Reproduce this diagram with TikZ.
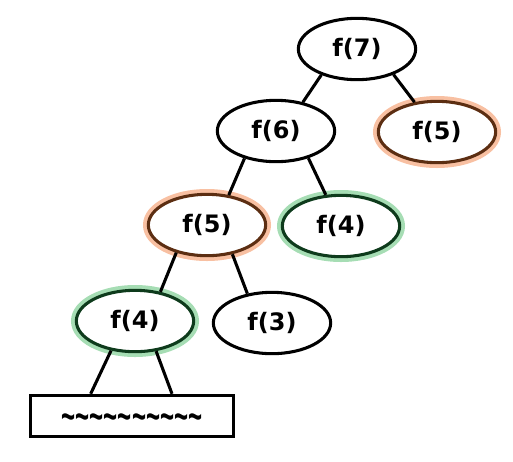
\documentclass[tikz,border=0pt]{standalone}
\usepackage{fontspec}
\setmainfont{DejaVu Sans}
\newfontfamily\wavefont{Liberation Sans}
\usetikzlibrary{shapes.geometric}
\definecolor{glowor}{RGB}{248,192,162}
\definecolor{lineor}{RGB}{92,46,18}
\definecolor{glowgr}{RGB}{166,221,180}
\definecolor{linegr}{RGB}{14,59,28}

\begin{document}
\begin{tikzpicture}[
      x=0.75pt, y=-0.75pt,
      call/.style={
        ellipse, draw=black, line width=2.3pt, fill=white,
        minimum width=88pt, minimum height=46pt, inner sep=0pt,
        font=\fontsize{18}{20}\selectfont\bfseries
      },
      callor/.style={call, draw=lineor,
        preaction={draw=glowor, line width=8pt}},
      callgr/.style={call, draw=linegr,
        preaction={draw=glowgr, line width=8pt}},
      restbox/.style={
        draw, line width=2.3pt, fill=white,
        minimum width=152pt, minimum height=31pt, inner sep=0pt,
        font=\wavefont\fontsize{18}{20}\selectfont\bfseries
      },
      edge/.style={line width=2.3pt}
    ]
      \useasboundingbox (0,0) rectangle (513,461);
      % calls of f
      \node[call]   (f7)  at (357,49)  {f(7)};
      \node[call]   (f6)  at (276,131) {f(6)};
      \node[callor] (f5r) at (437,132) {f(5)};
      \node[callor] (f5)  at (207,225) {f(5)};
      \node[callgr] (f4r) at (341,226) {f(4)};
      \node[callgr] (f4)  at (135,321) {f(4)};
      \node[call]   (f3)  at (272,323) {f(3)};
      \node[restbox] (rest) at (132,416)
        {\raisebox{-4.5pt}[\height][\depth]{\scalebox{1}[1.7]{\textasciitilde\textasciitilde\textasciitilde\textasciitilde\textasciitilde\textasciitilde\textasciitilde\textasciitilde\textasciitilde\textasciitilde}}};
      % branches
      \draw[edge] (f7.216) -- (f6.47);
      \draw[edge] (f7.325) -- (f5r.127);
      \draw[edge] (f6.221) -- (f5.54);
      \draw[edge] (f6.320) -- (f4r.116);
      \draw[edge] (f5.222) -- (f4.49);
      \draw[edge] (f5.311) -- (f3.130);
      \draw[edge] (f4.231) -- ([xshift=-31pt]rest.north);
      \draw[edge] (f4.305) -- ([xshift=30pt]rest.north);
    \end{tikzpicture}
\end{document}
